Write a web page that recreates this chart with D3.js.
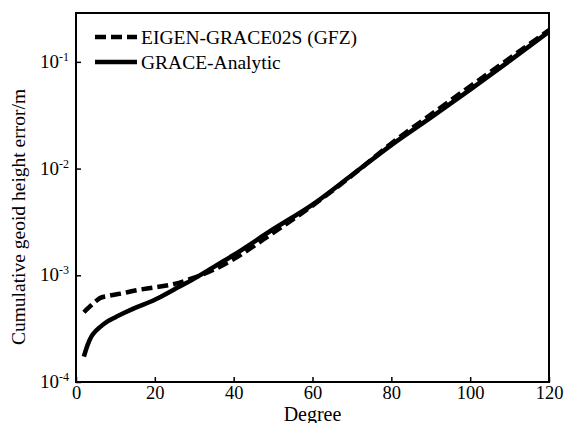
<!DOCTYPE html>
<html>
<head>
<meta charset="utf-8">
<script src="https://cdn.jsdelivr.net/npm/d3@7"></script>
<style>
body { margin: 0; background: #fff; }
</style>
</head>
<body>
<svg id="chart" width="568" height="423"></svg>
<script>
// degree grid shared by both curves
var degrees = [2, 3, 4, 5, 6, 8, 10, 12, 15, 20, 25, 30, 35, 40, 50, 60, 70, 80, 90, 100, 110, 120];

var eigenGrace = [4.5e-4, 4.9e-4, 5.3e-4, 5.7e-4, 6.1e-4, 6.4e-4, 6.6e-4, 6.8e-4, 7.2e-4, 7.7e-4, 8.3e-4, 9.5e-4,
	1.13e-3, 1.42e-3, 2.5e-3, 4.5e-3, 8.6e-3, 0.0172, 0.032, 0.059, 0.108, 0.198];

var graceAnalytic = [1.73e-4, 2.25e-4, 2.7e-4, 3.0e-4, 3.25e-4, 3.7e-4, 4.05e-4, 4.4e-4, 4.95e-4, 5.9e-4, 7.4e-4, 9.3e-4,
	1.2e-3, 1.55e-3, 2.7e-3, 4.6e-3, 8.7e-3, 0.0166, 0.030, 0.055, 0.102, 0.192];

var xTicks = [0, 20, 40, 60, 80, 100, 120];
var yTicks = [1e-4, 1e-3, 1e-2, 1e-1];
var yTickExp = ['-4', '-3', '-2', '-1'];

var seriesNames = ['EIGEN-GRACE02S (GFZ)', 'GRACE-Analytic'];

var serif = '"Liberation Serif", "Times New Roman", serif';

var margin = {top: 13, right: 19, bottom: 41, left: 76};
var width = 568 - margin.left - margin.right;
var height = 423 - margin.top - margin.bottom;

var svg = d3.select('#chart');
var g = svg.append('g').attr('transform', 'translate(' + margin.left + ',' + margin.top + ')');

var x = d3.scaleLinear().domain([0, 120]).range([0, width]);
var y = d3.scaleLog().domain([1e-4, 0.287]).range([height, 0]);

// frame
g.append('rect')
	.attr('width', width)
	.attr('height', height)
	.attr('fill', 'none')
	.attr('stroke', '#000')
	.attr('stroke-width', 2);

// x axis, ticks pointing in
var xAxis = g.append('g')
	.attr('transform', 'translate(0,' + height + ')')
	.call(d3.axisBottom(x).tickValues(xTicks).tickSizeInner(-5).tickSizeOuter(0));
xAxis.select('.domain').remove();
xAxis.selectAll('line').attr('stroke-width', 1.5);
xAxis.selectAll('text')
	.attr('font-size', 18.5)
	.attr('y', 17)
	.attr('dy', null);

// y axis
var yAxis = g.append('g')
	.call(d3.axisLeft(y).tickValues(yTicks).tickSizeInner(-5).tickSizeOuter(0).tickFormat(''));
yAxis.select('.domain').remove();
yAxis.selectAll('line').attr('stroke-width', 1.5);

var yLab = g.selectAll('.ylab')
	.data(yTicks)
	.enter()
	.append('text')
	.attr('class', 'ylab')
	.attr('x', -7)
	.attr('y', function(d) { return y(d) + 6; })
	.attr('text-anchor', 'end')
	.attr('font-size', 19);
yLab.append('tspan').text('10');
yLab.append('tspan')
	.attr('dy', -7)
	.attr('font-size', 12)
	.text(function(d, i) { return yTickExp[i]; });

// curves
var line = d3.line()
	.x(function(d) { return x(d[0]); })
	.y(function(d) { return y(d[1]); })
	.curve(d3.curveMonotoneX);

g.append('path')
	.datum(d3.zip(degrees, graceAnalytic))
	.attr('d', line)
	.attr('fill', 'none')
	.attr('stroke', '#000')
	.attr('stroke-width', 4.5)
	.attr('stroke-linecap', 'butt');

g.append('path')
	.datum(d3.zip(degrees, eigenGrace))
	.attr('d', line)
	.attr('fill', 'none')
	.attr('stroke', '#000')
	.attr('stroke-width', 4.5)
	.attr('stroke-dasharray', '11,5');

// legend
var legend = g.append('g').attr('transform', 'translate(19,24)');
legend.selectAll('line')
	.data(seriesNames)
	.enter()
	.append('line')
	.attr('x1', 0)
	.attr('x2', 42)
	.attr('y1', function(d, i) { return i * 25; })
	.attr('y2', function(d, i) { return i * 25; })
	.attr('stroke', '#000')
	.attr('stroke-width', 4.5)
	.attr('stroke-dasharray', function(d, i) { return i == 0 ? '11,5' : null; });
legend.selectAll('text')
	.data(seriesNames)
	.enter()
	.append('text')
	.attr('x', 46)
	.attr('y', function(d, i) { return i * 25 + 7; })
	.attr('font-size', 19.5)
	.text(function(d) { return d; });

// axis titles
g.append('text')
	.attr('x', width / 2)
	.attr('y', height + 39)
	.attr('text-anchor', 'middle')
	.attr('font-size', 20)
	.text('Degree');

svg.append('text')
	.attr('transform', 'translate(25,217) rotate(-90)')
	.attr('text-anchor', 'middle')
	.attr('font-size', 19.5)
	.text('Cumulative geoid height error/m');

svg.selectAll('text').style('font-family', serif).attr('fill', '#000');
</script>
</body>
</html>
